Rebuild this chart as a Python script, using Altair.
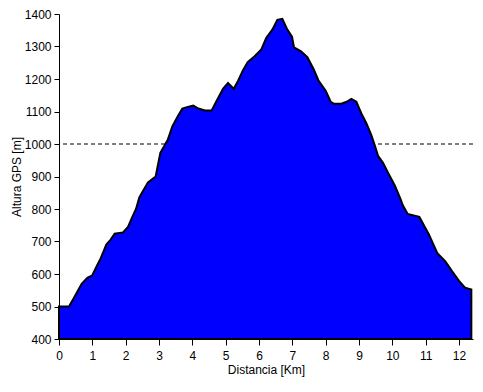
import altair as alt
import pandas as pd

dist = [0, 0.3, 0.45, 0.68, 0.85, 1.0, 1.13, 1.25, 1.42, 1.55, 1.67, 1.92, 2.07, 2.2, 2.31,
        2.41, 2.55, 2.67, 2.9, 3.04, 3.26, 3.4, 3.56, 3.7, 3.89, 4.03, 4.18, 4.38, 4.58, 4.73,
        4.92, 5.07, 5.24, 5.37, 5.51, 5.66, 5.87, 6.07, 6.22, 6.4, 6.55, 6.7, 6.85, 6.99, 7.05,
        7.26, 7.45, 7.64, 7.79, 8.0, 8.15, 8.24, 8.47, 8.63, 8.77, 8.92, 9.07, 9.22, 9.37, 9.48,
        9.57, 9.72, 9.87, 10.07, 10.25, 10.31, 10.46, 10.81, 11.1, 11.35, 11.59, 11.79, 12.0,
        12.18, 12.37]
elev = [500, 500, 527, 570, 588, 596, 624, 648, 691, 706, 724, 728, 745, 776, 800,
        836, 861, 882, 900, 973, 1012, 1054, 1085, 1109, 1115, 1118, 1109, 1103, 1103, 1133,
        1170, 1188, 1170, 1194, 1225, 1252, 1270, 1291, 1327, 1352, 1382, 1385, 1352, 1330, 1297,
        1285, 1267, 1230, 1194, 1164, 1130, 1124, 1124, 1130, 1139, 1130, 1094, 1064, 1027, 994,
        964, 942, 912, 873, 830, 812, 785, 776, 721, 664, 639, 609, 579, 558,
        552]
x_ticks = list(range(0, 13))
y_ticks = list(range(400, 1401, 100))
ref_level = [1000]

df = pd.DataFrame({"d": dist, "h": elev})
ref = pd.DataFrame({"h": ref_level})

FONT = "Liberation Sans"

xscale = alt.Scale(domain=[0, 12.42], nice=False)
yscale = alt.Scale(domain=[400, 1400], nice=False, zero=False)

xaxis = alt.Axis(values=x_ticks, title="Distancia [Km]", grid=False, tickSize=6,
                 labelPadding=5, titlePadding=3, labelFlush=False, format="d")
yaxis = alt.Axis(values=y_ticks, title="Altura GPS [m]", grid=False, tickSize=5,
                 labelPadding=3, titleX=-36, labelFlush=False, format="d")

rule = alt.Chart(ref).mark_rule(color="black", strokeWidth=1, strokeDash=[4, 3]).encode(
    y=alt.Y("h:Q", scale=yscale, axis=yaxis)
)

area = alt.Chart(df).mark_area(color="#0000FF", stroke="black", strokeWidth=2,
                               interpolate="linear").encode(
    x=alt.X("d:Q", scale=xscale, axis=xaxis),
    y=alt.Y("h:Q", scale=yscale, axis=yaxis),
    y2=alt.datum(400),
)

chart = alt.layer(rule, area).properties(
    width=414, height=325,
    autosize=alt.AutoSizeParams(type="none"),
    padding={"left": 51, "top": 6, "right": 2, "bottom": 40},
).configure_view(stroke=None).configure_axis(
    domainColor="black", tickColor="black", labelColor="black", titleColor="black",
    labelFont=FONT, titleFont=FONT, labelFontSize=12, titleFontSize=12,
    titleFontWeight="normal", domainWidth=1,
)

chart.save("out.html", embed_options={"renderer": "svg", "actions": False})
